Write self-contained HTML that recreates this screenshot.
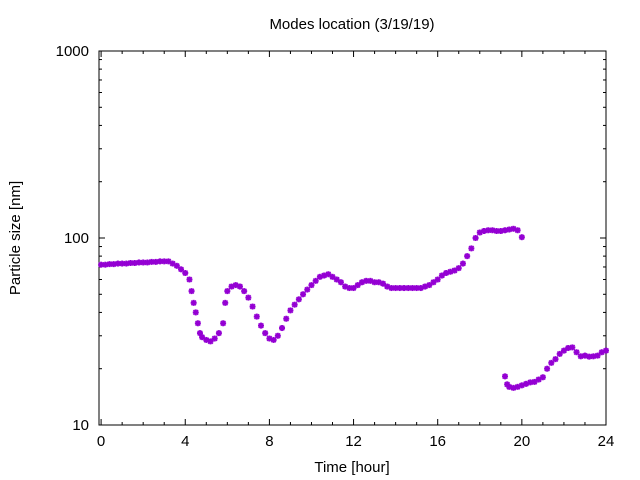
<!DOCTYPE html>
<html><head><meta charset="utf-8"><style>
body{margin:0;background:#fff}
svg{display:block;font-family:"Liberation Sans",sans-serif}
</style></head><body>
<svg id="c" width="640" height="480">
<text x="352" y="29" font-size="15" text-anchor="middle">Modes location (3/19/19)</text>
<text x="352" y="472" font-size="15" text-anchor="middle">Time [hour]</text>
<text transform="translate(20,238) rotate(-90)" font-size="15" text-anchor="middle">Particle size [nm]</text>
<g id="axes"></g>
<g id="marks"></g>
</svg>
<script>
const xTicks=[0,4,8,12,16,20,24];
const yTicks=[10,100,1000];
const t1=[0,0.2,0.4,0.6,0.8,1,1.2,1.4,1.6,1.8,2,2.2,2.4,2.6,2.8,3,3.2,3.4,3.6,3.8,4,4.2,4.3,4.4,4.5,4.6,4.7,4.8,5,5.2,5.4,5.6,5.8,5.9,6,6.2,6.4,6.6,6.8,7,7.2,7.4,7.6,7.8,8,8.2,8.4,8.6,8.8,9,9.2,9.4,9.6,9.8,10,10.2,10.4,10.6,10.8,11,11.2,11.4,11.6,11.8,12,12.2,12.4,12.6,12.8,13,13.2,13.4,13.6,13.8,14,14.2,14.4,14.6,14.8,15,15.2,15.4,15.6,15.8,16,16.2,16.4,16.6,16.8,17,17.2,17.4,17.6,17.8,18,18.2,18.4,18.6,18.8,19,19.2,19.4,19.6,19.8,20];
const v1=[72,72,72.5,72.5,73,73,73,73.5,73.5,74,74,74,74.5,74.5,75,75,75,73,71,68,65,60,52,45,40,35,31,29.5,28.5,28,29,31,35,45,52,55,56,55,52,48,43,38,34,31,29,28.5,30,33,37,41,44,47,50,53,56,59,62,63,64,62,60,58,55,54,54,56,58,59,59,58,58,57,55,54,54,54,54,54,54,54,54,55,56,58,60,63,65,66,67,69,73,80,88,100,107,109,110,110,109,109,110,111,112,110,101];
const t2=[19.2,19.3,19.4,19.6,19.8,20,20.2,20.4,20.6,20.8,21,21.2,21.4,21.6,21.8,22,22.2,22.4,22.6,22.8,23,23.2,23.4,23.6,23.8,24];
const v2=[18.2,16.5,16,15.8,16,16.3,16.6,16.9,17,17.5,18,20,21.5,22.5,24,25,25.8,26,24.5,23.3,23.5,23.2,23.3,23.5,24.5,25];
const L=99,R=606,T=51,B=425,XMIN=-0.1,XMAX=24;
const xs=t=>L+(t-XMIN)/(XMAX-XMIN)*(R-L);
const ys=v=>B-(Math.log10(v)-1)/2*(B-T);
const NS='http://www.w3.org/2000/svg';
const ax=document.getElementById('axes'),mk=document.getElementById('marks');
function ln(p,x1,y1,x2,y2,w,c){const e=document.createElementNS(NS,'line');e.setAttribute('x1',x1);e.setAttribute('y1',y1);e.setAttribute('x2',x2);e.setAttribute('y2',y2);e.setAttribute('stroke',c||'#000');e.setAttribute('stroke-width',w||1);p.appendChild(e);return e;}
const fr=document.createElementNS(NS,'rect');
fr.setAttribute('x',L);fr.setAttribute('y',T);fr.setAttribute('width',R-L);fr.setAttribute('height',B-T);fr.setAttribute('fill','none');fr.setAttribute('stroke','#000');


ax.appendChild(fr);
for(let h=0;h<=24;h++){const x=xs(h),len=h%4===0?6:3;ln(ax,x,B,x,B-len);ln(ax,x,T,x,T+len);}
xTicks.forEach(t=>{const e=document.createElementNS(NS,'text');e.setAttribute('x',xs(t));e.setAttribute('y',B+21);e.setAttribute('font-size','15');e.setAttribute('text-anchor','middle');e.textContent=t;


ax.appendChild(e);});
for(let d=10;d<1000;d*=10){for(let k=1;k<10;k++){const y=ys(d*k),len=k===1?6:3;ln(ax,L,y,L+len,y);ln(ax,R,y,R-len,y);}}
yTicks.forEach(v=>{const e=document.createElementNS(NS,'text');e.setAttribute('x',L-10);e.setAttribute('y',ys(v)+5);e.setAttribute('font-size','15');e.setAttribute('text-anchor','end');e.textContent=v;


ax.appendChild(e);});
function pt(t,v){const g=document.createElementNS(NS,'g');


const x=xs(t),y=ys(v),c='#9400d3',r=3;
ln(g,x-r,y,x+r,y,2,c);ln(g,x,y-r,x,y+r,2,c);ln(g,x-2.3,y-2.3,x+2.3,y+2.3,1.6,c);ln(g,x-2.3,y+2.3,x+2.3,y-2.3,1.6,c);
mk.appendChild(g);}
t1.forEach((t,i)=>pt(t,v1[i]));
t2.forEach((t,i)=>pt(t,v2[i]));
</script>
</body></html>
